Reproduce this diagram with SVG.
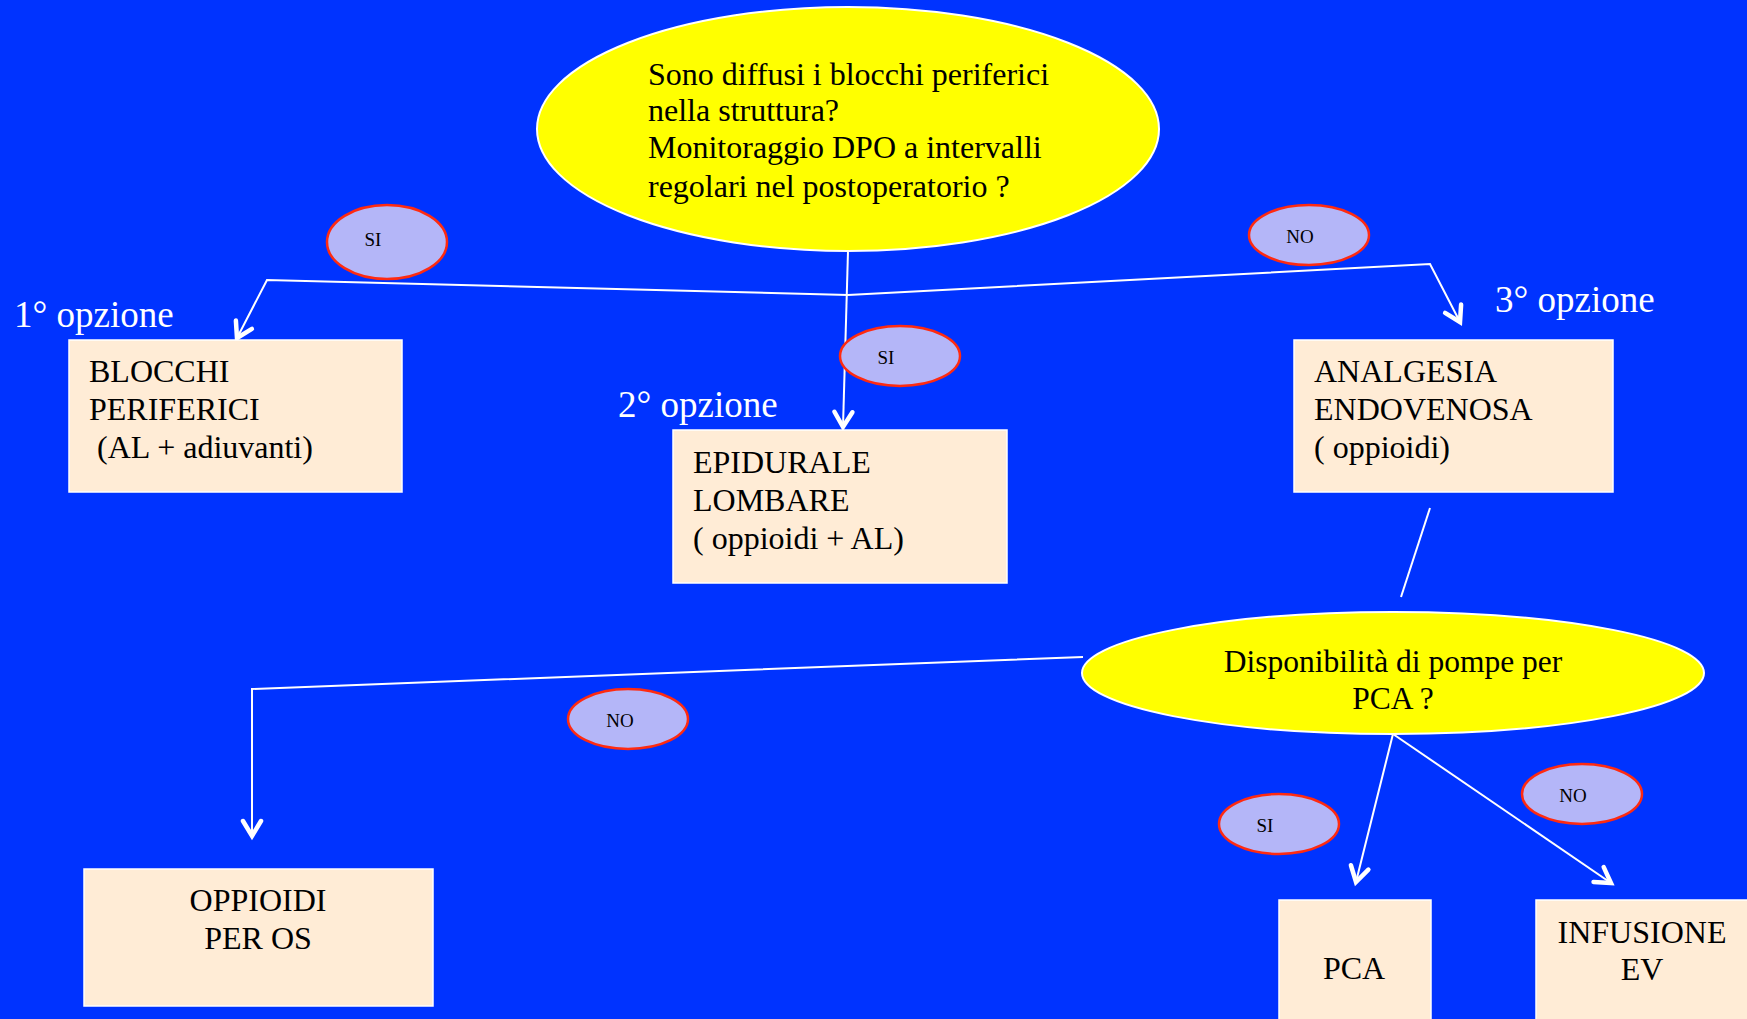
<svg xmlns="http://www.w3.org/2000/svg" width="1747" height="1019" viewBox="0 0 1747 1019">
  <defs>
    <style>
      .bg { fill: #0033ff; }
      .question { fill: #ffff00; stroke: #ffffff; stroke-width: 2; }
      .box { fill: #ffecd6; stroke: #ffffff; stroke-width: 1.5; }
      .tag { fill: #b4b6f8; stroke: #ff2a10; stroke-width: 2.5; }
      .txt { font-family: "Liberation Serif", "Times New Roman", serif; fill: #000000; }
      .q { font-size: 32px; }
      .q2 { font-size: 31.5px; }
      .b { font-size: 32px; }
      .t { font-size: 19px; }
      .opt { font-family: "Liberation Serif", "Times New Roman", serif; font-size: 37px; fill: #ffffff; }
      .wire { fill: none; stroke: #ffffff; stroke-width: 2; stroke-linejoin: miter; }
      .arrow { marker-end: url(#open-arrow); }
    </style>
    <marker id="open-arrow" markerUnits="userSpaceOnUse" markerWidth="40" markerHeight="40" refX="0" refY="0" orient="auto" overflow="visible">
      <path d="M -15 -9 L 0 0 L -15 9" fill="none" stroke="#ffffff" stroke-width="4.5" stroke-linecap="round" stroke-linejoin="miter"/>
    </marker>
  </defs>

  <rect class="bg" x="0" y="0" width="1747" height="1019"/>

  <!-- connectors -->
  <g id="connectors">
    <line class="wire arrow" x1="848" y1="251" x2="843" y2="427"/>
    <polyline class="wire arrow" points="848,295 267,280 237,338"/>
    <polyline class="wire arrow" points="848,295 1430,264 1460,322"/>
    <line class="wire" x1="1430" y1="508" x2="1401" y2="597"/>
    <polyline class="wire arrow" points="1083,657 252,689 252,836"/>
    <line class="wire arrow" x1="1393" y1="734" x2="1356" y2="882"/>
    <line class="wire arrow" x1="1393" y1="734" x2="1611" y2="883"/>
  </g>

  <!-- decision: peripheral blocks / monitoring -->
  <g id="q-main">
    <ellipse class="question" cx="848" cy="129" rx="311" ry="122"/>
    <text class="txt q" x="648" y="85">Sono diffusi i blocchi periferici</text>
    <text class="txt q" x="648" y="121">nella struttura?</text>
    <text class="txt q" x="648" y="158">Monitoraggio DPO a intervalli</text>
    <text class="txt q" x="648" y="197">regolari nel postoperatorio ?</text>
  </g>

  <!-- answer tags -->
  <g id="tag-si-1">
    <ellipse class="tag" cx="387" cy="242" rx="60" ry="37"/>
    <text class="txt t" x="373" y="246" text-anchor="middle">SI</text>
  </g>
  <g id="tag-no-1">
    <ellipse class="tag" cx="1309" cy="235" rx="60" ry="30"/>
    <text class="txt t" x="1300" y="243" text-anchor="middle">NO</text>
  </g>
  <g id="tag-si-2">
    <ellipse class="tag" cx="900" cy="356" rx="60" ry="30"/>
    <text class="txt t" x="886" y="364" text-anchor="middle">SI</text>
  </g>
  <g id="tag-no-2">
    <ellipse class="tag" cx="628" cy="719" rx="60" ry="30"/>
    <text class="txt t" x="620" y="727" text-anchor="middle">NO</text>
  </g>
  <g id="tag-si-3">
    <ellipse class="tag" cx="1279" cy="824" rx="60" ry="30"/>
    <text class="txt t" x="1265" y="832" text-anchor="middle">SI</text>
  </g>
  <g id="tag-no-3">
    <ellipse class="tag" cx="1582" cy="794" rx="60" ry="30"/>
    <text class="txt t" x="1573" y="802" text-anchor="middle">NO</text>
  </g>

  <!-- option captions -->
  <text class="opt" x="14" y="327">1° opzione</text>
  <text class="opt" x="618" y="417">2° opzione</text>
  <text class="opt" x="1495" y="312">3° opzione</text>

  <!-- treatment options -->
  <g id="box-blocchi">
    <rect class="box" x="69" y="340" width="333" height="152"/>
    <text class="txt b" x="89" y="382">BLOCCHI</text>
    <text class="txt b" x="89" y="420">PERIFERICI</text>
    <text class="txt b" x="97" y="458">(AL + adiuvanti)</text>
  </g>
  <g id="box-epidurale">
    <rect class="box" x="673" y="430" width="334" height="153"/>
    <text class="txt b" x="693" y="473">EPIDURALE</text>
    <text class="txt b" x="693" y="511">LOMBARE</text>
    <text class="txt b" x="693" y="549">( oppioidi + AL)</text>
  </g>
  <g id="box-endovenosa">
    <rect class="box" x="1294" y="340" width="319" height="152"/>
    <text class="txt b" x="1314" y="382">ANALGESIA</text>
    <text class="txt b" x="1314" y="420">ENDOVENOSA</text>
    <text class="txt b" x="1314" y="458">( oppioidi)</text>
  </g>

  <!-- decision: PCA pumps -->
  <g id="q-pca">
    <ellipse class="question" cx="1393" cy="673" rx="311" ry="61"/>
    <text class="txt q2" x="1393" y="672" text-anchor="middle">Disponibilità di pompe per</text>
    <text class="txt q2" x="1393" y="709" text-anchor="middle">PCA ?</text>
  </g>

  <g id="box-oppioidi-os">
    <rect class="box" x="84" y="869" width="349" height="137"/>
    <text class="txt b" x="258" y="911" text-anchor="middle">OPPIOIDI</text>
    <text class="txt b" x="258" y="949" text-anchor="middle">PER OS</text>
  </g>
  <g id="box-pca">
    <rect class="box" x="1279" y="900" width="152" height="130"/>
    <text class="txt b" x="1354" y="979" text-anchor="middle">PCA</text>
  </g>
  <g id="box-infusione">
    <rect class="box" x="1536" y="900" width="230" height="130"/>
    <text class="txt b" x="1642" y="943" text-anchor="middle">INFUSIONE</text>
    <text class="txt b" x="1642" y="980" text-anchor="middle">EV</text>
  </g>
</svg>
